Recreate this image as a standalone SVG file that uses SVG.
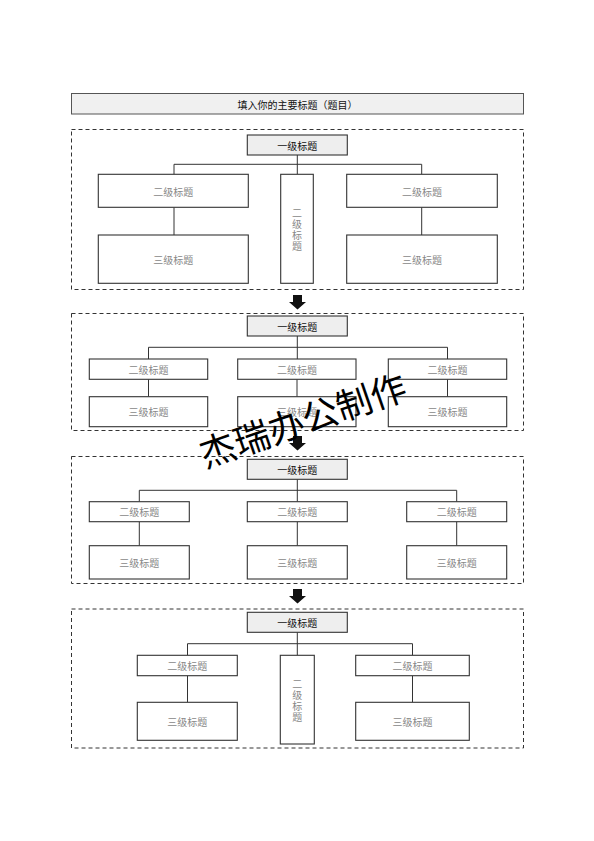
<svg xmlns="http://www.w3.org/2000/svg" width="594" height="841" viewBox="0 0 594 841">
<style>
text{font-family:"Noto Sans CJK SC","Noto Sans",sans-serif;text-anchor:middle;dominant-baseline:central}
.box{fill:#fff;stroke:#333;stroke-width:1.1}
.l1{fill:#eeeeee;stroke:#333;stroke-width:1.1}
.cont{fill:none;stroke:#333;stroke-width:1;stroke-dasharray:4 3}
.c{fill:none;stroke:#333;stroke-width:1}
.t1{font-size:10px;fill:#111}
.t2{font-size:10px;fill:#888}
.vt{writing-mode:vertical-rl;letter-spacing:1px}
.arr{fill:#111}
</style>
<defs>
<path id="arrow" d="M-4.5,0 H4.5 V7 H8.5 L0,14.5 L-8.5,7 H-4.5 Z"/>
</defs>
<rect width="594" height="841" fill="#fff"/>
<g id="title"><rect x="71.5" y="93.5" width="452" height="20.5" fill="#f0f0f0" stroke="#555" stroke-width="1"/><text x="297.5" y="104" class="t1">填入你的主要标题（题目）</text></g>

<g id="containers">
<rect class="cont" x="71.5" y="129.5" width="452" height="160"/>
<rect class="cont" x="71.5" y="313.5" width="452" height="117"/>
<rect class="cont" x="71.5" y="456.5" width="452" height="127"/>
<rect class="cont" x="71.5" y="609" width="452" height="139"/>
</g>

<g id="connectors">
<path class="c" d="M297.3,155 V174.3 M174,174.3 V164.3 H421.7 V174.3 M174,207.3 V235 M421.7,207.3 V235"/>
<path class="c" d="M297.3,336 V359 M148.5,359 V347.3 H447.5 V359 M148.5,379.3 V396.7 M297,379.3 V396.7 M447.5,379.3 V396.7"/>
<path class="c" d="M297.3,479.3 V501.7 M139.3,501.7 V490.3 H456.7 V501.7 M139.3,521.7 V545.7 M297.3,521.7 V545.7 M456.7,521.7 V545.7"/>
<path class="c" d="M297.3,632.3 V655.3 M187.5,655.3 V643.7 H412.5 V655.3 M187.5,675.7 V702.3 M412.5,675.7 V702.3"/>
<use href="#arrow" class="arr" x="297.5" y="295"/>
<use href="#arrow" class="arr" x="297.5" y="436"/>
<use href="#arrow" class="arr" x="297.5" y="589"/>
</g>

<!-- section 1 -->
<g id="s1-l1"><rect class="l1" x="247.3" y="135" width="100" height="20"/><text class="t1" x="297.3" y="145">一级标题</text></g>
<g id="s1-l2a"><rect class="box" x="98.3" y="174.3" width="150" height="33"/><text class="t2" x="173.3" y="191">二级标题</text></g>
<g id="s1-l2b"><rect class="box" x="280.7" y="174.3" width="32.6" height="109"/><text class="t2 vt" x="297" y="230">二级标题</text></g>
<g id="s1-l2c"><rect class="box" x="346.7" y="174.3" width="150.6" height="33"/><text class="t2" x="422" y="191">二级标题</text></g>
<g id="s1-l3a"><rect class="box" x="98.3" y="235" width="150" height="48.3"/><text class="t2" x="173.3" y="259">三级标题</text></g>
<g id="s1-l3c"><rect class="box" x="346.7" y="235" width="150.6" height="48.3"/><text class="t2" x="422" y="259">三级标题</text></g>

<!-- section 2 -->
<g id="s2-l1"><rect class="l1" x="247.3" y="316" width="100" height="20"/><text class="t1" x="297.3" y="326">一级标题</text></g>
<g id="s2-l2a"><rect class="box" x="89.3" y="359" width="118.4" height="20.3"/><text class="t2" x="148.5" y="369">二级标题</text></g>
<g id="s2-l2b"><rect class="box" x="237.7" y="359" width="118.3" height="20.3"/><text class="t2" x="297" y="369">二级标题</text></g>
<g id="s2-l2c"><rect class="box" x="388.3" y="359" width="118.4" height="20.3"/><text class="t2" x="447.5" y="369">二级标题</text></g>
<g id="s2-l3a"><rect class="box" x="89.3" y="396.7" width="118.4" height="30"/><text class="t2" x="148.5" y="411.7">三级标题</text></g>
<g id="s2-l3b"><rect class="box" x="237.7" y="396.7" width="118.3" height="30"/><text class="t2" x="297" y="411.7">三级标题</text></g>
<g id="s2-l3c"><rect class="box" x="388.3" y="396.7" width="118.4" height="30"/><text class="t2" x="447.5" y="411.7">三级标题</text></g>

<!-- section 3 -->
<g id="s3-l1"><rect class="l1" x="247.3" y="459.3" width="100" height="20"/><text class="t1" x="297.3" y="469.3">一级标题</text></g>
<g id="s3-l2a"><rect class="box" x="89.3" y="501.7" width="100" height="20"/><text class="t2" x="139.3" y="511.7">二级标题</text></g>
<g id="s3-l2b"><rect class="box" x="247.3" y="501.7" width="100" height="20"/><text class="t2" x="297.3" y="511.7">二级标题</text></g>
<g id="s3-l2c"><rect class="box" x="406.7" y="501.7" width="100" height="20"/><text class="t2" x="456.7" y="511.7">二级标题</text></g>
<g id="s3-l3a"><rect class="box" x="89.3" y="545.7" width="100" height="33.3"/><text class="t2" x="139.3" y="562.3">三级标题</text></g>
<g id="s3-l3b"><rect class="box" x="247.3" y="545.7" width="100" height="33.3"/><text class="t2" x="297.3" y="562.3">三级标题</text></g>
<g id="s3-l3c"><rect class="box" x="406.7" y="545.7" width="100" height="33.3"/><text class="t2" x="456.7" y="562.3">三级标题</text></g>

<!-- section 4 -->
<g id="s4-l1"><rect class="l1" x="247.3" y="612.3" width="100" height="20"/><text class="t1" x="297.3" y="622.3">一级标题</text></g>
<g id="s4-l2a"><rect class="box" x="137.3" y="655.3" width="100" height="20.4"/><text class="t2" x="187.3" y="665.5">二级标题</text></g>
<g id="s4-l2b"><rect class="box" x="280.3" y="655.3" width="34" height="88.7"/><text class="t2 vt" x="297.3" y="701">二级标题</text></g>
<g id="s4-l2c"><rect class="box" x="355.7" y="655.3" width="113.6" height="20.4"/><text class="t2" x="412.5" y="665.5">二级标题</text></g>
<g id="s4-l3a"><rect class="box" x="137.3" y="702.3" width="100" height="38"/><text class="t2" x="187.3" y="721.3">三级标题</text></g>
<g id="s4-l3c"><rect class="box" x="355.7" y="702.3" width="113.6" height="38"/><text class="t2" x="412.5" y="721.3">三级标题</text></g>

<g id="watermark"><text x="302" y="418" transform="rotate(-19 302 418)" style="font-size:36px;fill:#000">杰瑞办公制作</text></g>
</svg>
